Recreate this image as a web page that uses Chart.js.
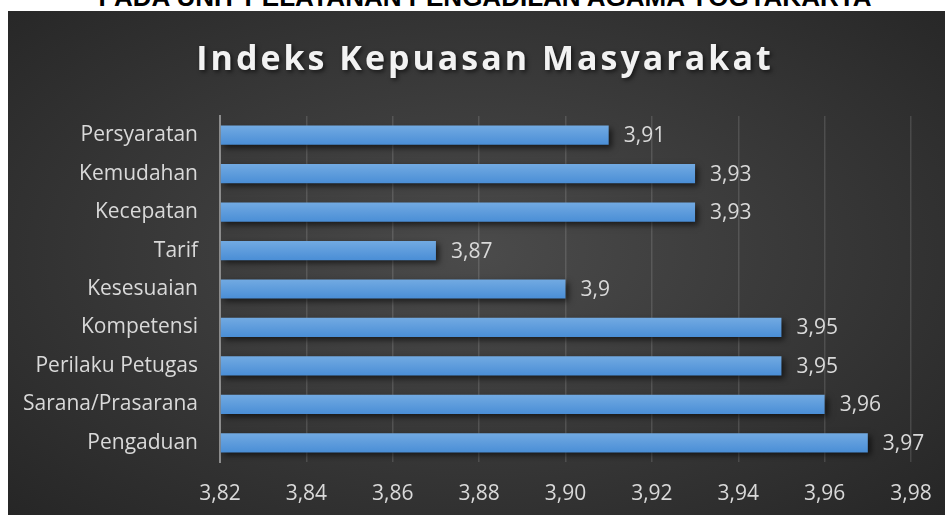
<!DOCTYPE html>
<html>
<head>
<meta charset="utf-8">
<script src="https://cdn.jsdelivr.net/npm/chart.js@4.4.1/dist/chart.umd.min.js"></script>
<style>
  html, body { margin: 0; padding: 0; background: #fff; overflow: hidden; }
  body { width: 945px; height: 515px; position: relative; }
  #topText {
    position: absolute; left: 0; width: 970px; top: -16px;
    text-align: center; font: bold 26px "Liberation Sans", Arial, sans-serif;
    line-height: 26px; color: #000; white-space: nowrap;
  }
  #panel {
    position: absolute; left: 8px; top: 11px; width: 937px; height: 504px;
    background: radial-gradient(ellipse farthest-corner at 50% 48%, #4b4b4b 0%, #3c3c3c 40%, #262626 100%);
  }
</style>
</head>
<body>
<div id="topText">PADA UNIT PELAYANAN PENGADILAN AGAMA YOGYAKARTA</div>
<div id="panel"><canvas id="ikmChart"></canvas></div>
<script>
// Data
const chartTitle = 'Indeks Kepuasan Masyarakat';
const categories = ['Persyaratan', 'Kemudahan', 'Kecepatan', 'Tarif', 'Kesesuaian',
    'Kompetensi', 'Perilaku Petugas', 'Sarana/Prasarana', 'Pengaduan'];
const values = [3.91, 3.93, 3.93, 3.87, 3.90, 3.95, 3.95, 3.96, 3.97];
const xTicks = [3.82, 3.84, 3.86, 3.88, 3.90, 3.92, 3.94, 3.96, 3.98];

const labelColor = '#d9d9d9';
const fontFamily = '"Open Sans", "Noto Sans", sans-serif';

// comma decimal, like the Indonesian Excel original
const fmt = (v, digits) => (digits != null ? v.toFixed(digits) : String(v)).replace('.', ',');

// gradient fill + drop shadow for the bars
const barStyle = {
    id: 'barStyle',
    beforeDatasetsDraw(chart) {
        const ctx = chart.ctx;
        chart.getDatasetMeta(0).data.forEach(el => {
            const h = el.height;
            const g = ctx.createLinearGradient(0, el.y - h / 2, 0, el.y + h / 2);
            g.addColorStop(0, '#72aae2');
            g.addColorStop(1, '#4a8ed6');
            el.options = Object.assign({}, el.options, { backgroundColor: g });
        });
        ctx.save();
        ctx.shadowColor = 'rgba(0,0,0,0.6)';
        ctx.shadowBlur = 6;
        ctx.shadowOffsetX = 3;
        ctx.shadowOffsetY = 3;
    },
    afterDatasetsDraw(chart) {
        const ctx = chart.ctx;
        ctx.restore();
        // value labels to the right of every bar
        ctx.save();
        ctx.font = '21px ' + fontFamily;
        ctx.fillStyle = labelColor;
        ctx.textAlign = 'left';
        ctx.textBaseline = 'middle';
        chart.getDatasetMeta(0).data.forEach((el, i) => {
            ctx.fillText(fmt(values[i]), el.x + 15, el.y + 1);
        });
        ctx.restore();
    }
};

// spaced-out title with a soft shadow
const titlePlugin = {
    id: 'spacedTitle',
    afterDraw(chart) {
        const ctx = chart.ctx;
        ctx.save();
        ctx.font = 'bold 34px ' + fontFamily;
        ctx.letterSpacing = '3px';
        ctx.fillStyle = '#f2f2f2';
        ctx.textAlign = 'center';
        ctx.textBaseline = 'alphabetic';
        ctx.shadowColor = 'rgba(0,0,0,0.6)';
        ctx.shadowBlur = 4;
        ctx.shadowOffsetX = 2;
        ctx.shadowOffsetY = 2;
        ctx.fillText(chartTitle, 477, 59);
        ctx.restore();
    }
};

new Chart(document.getElementById('ikmChart'), {
    type: 'bar',
    data: {
        labels: categories,
        datasets: [{
            data: values,
            base: xTicks[0],
            backgroundColor: '#5b9bd5',
            borderWidth: 0,
            barPercentage: 0.5,
            categoryPercentage: 1
        }]
    },
    options: {
        indexAxis: 'y',
        responsive: true,
        maintainAspectRatio: false,
        animation: false,
        layout: { padding: { top: 105, right: 34, bottom: 0, left: 0 } },
        plugins: {
            legend: { display: false },
            tooltip: { enabled: false },
            title: { display: false }
        },
        scales: {
            x: {
                min: xTicks[0],
                max: xTicks[xTicks.length - 1],
                afterBuildTicks: s => { s.ticks = xTicks.map(v => ({ value: v })); },
                afterFit: s => { s.height = 53; s.paddingLeft = 0; s.paddingRight = 0; },
                grid: { color: 'rgba(255,255,255,0.13)', lineWidth: 1.5, drawTicks: false },
                border: { display: false },
                ticks: {
                    color: labelColor,
                    padding: 19,
                    font: { family: fontFamily, size: 21 },
                    maxRotation: 0,
                    callback: v => fmt(v, 2)
                }
            },
            y: {
                afterFit: s => { s.width = 212; },
                grid: { color: 'transparent', drawTicks: false },
                border: { display: true, color: '#8c8c8c', width: 2 },
                ticks: {
                    color: labelColor,
                    padding: 22,
                    font: { family: fontFamily, size: 21 }
                }
            }
        }
    },
    plugins: [barStyle, titlePlugin]
});
</script>
</body>
</html>
